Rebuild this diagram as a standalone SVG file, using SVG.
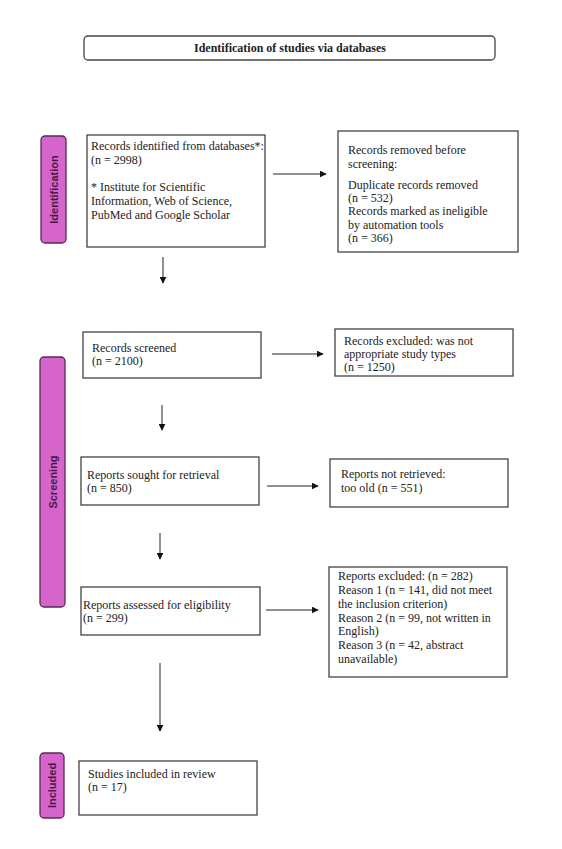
<svg xmlns="http://www.w3.org/2000/svg" width="562" height="849" viewBox="0 0 562 849">
<defs>
<marker id="ah" viewBox="0 0 10 10" refX="9" refY="5" markerWidth="7" markerHeight="7" markerUnits="userSpaceOnUse" orient="auto"><path d="M0,0 L10,5 L0,10 z" fill="#111"/></marker>
<style>
.box{fill:#fff;stroke:#444;stroke-width:1.3}
.t{font-family:"Liberation Serif","Times New Roman",serif;font-size:12px;fill:#222}
.tb{font-family:"Liberation Serif","Times New Roman",serif;font-size:12px;font-weight:bold;fill:#222}
.bar{fill:#d565cb;stroke:#5a2a55;stroke-width:1.3}
.bt{font-family:"Liberation Sans",Arial,sans-serif;font-size:11px;font-weight:bold;fill:#4a1845}
.c{stroke:#222;stroke-width:1;fill:none;marker-end:url(#ah)}
</style>
</defs>
<rect width="562" height="849" fill="#fff"/>
<g id="title"><rect class="box" x="84" y="36" width="411" height="24" rx="4"/><text class="tb" x="290" y="52" text-anchor="middle">Identification of studies via databases</text></g>
<g id="bar-identification"><rect class="bar" x="41" y="136" width="25" height="107" rx="4"/><text class="bt" transform="translate(57.5,189.5) rotate(-90)" text-anchor="middle">Identification</text></g>
<g id="bar-screening"><rect class="bar" x="40" y="357" width="25" height="250" rx="4"/><text class="bt" transform="translate(56.5,482) rotate(-90)" text-anchor="middle">Screening</text></g>
<g id="bar-included"><rect class="bar" x="40" y="753" width="24" height="65" rx="4"/><text class="bt" transform="translate(56,785.5) rotate(-90)" text-anchor="middle">Included</text></g>
<g id="identified"><rect class="box" x="87" y="135" width="178" height="112"/><text class="t"><tspan x="91" y="150">Records identified from databases*:</tspan><tspan x="91" y="164">(n = 2998)</tspan><tspan x="91" y="191">* Institute for Scientific</tspan><tspan x="91" y="205">Information, Web of Science,</tspan><tspan x="91" y="219">PubMed and Google Scholar</tspan></text></g>
<g id="removed"><rect class="box" x="338" y="131" width="180" height="121"/><text class="t"><tspan x="348" y="154">Records removed before</tspan><tspan x="348" y="168">screening:</tspan><tspan x="348" y="189">Duplicate records removed</tspan><tspan x="348" y="202">(n = 532)</tspan><tspan x="348" y="215">Records marked as ineligible</tspan><tspan x="348" y="229">by automation tools</tspan><tspan x="348" y="242">(n = 366)</tspan></text></g>
<g id="screened"><rect class="box" x="83" y="332" width="178" height="46"/><text class="t"><tspan x="92" y="352">Records screened</tspan><tspan x="92" y="365">(n = 2100)</tspan></text></g>
<g id="excluded1"><rect class="box" x="335" y="329" width="178" height="47"/><text class="t"><tspan x="344" y="345">Records excluded: was not</tspan><tspan x="344" y="358">appropriate study types</tspan><tspan x="344" y="371">(n = 1250)</tspan></text></g>
<g id="sought"><rect class="box" x="81" y="457" width="178" height="48"/><text class="t"><tspan x="87" y="479">Reports sought for retrieval</tspan><tspan x="87" y="492">(n = 850)</tspan></text></g>
<g id="notretrieved"><rect class="box" x="330" y="459" width="178" height="48"/><text class="t"><tspan x="341" y="478">Reports not retrieved:</tspan><tspan x="341" y="492">too old (n = 551)</tspan></text></g>
<g id="assessed"><rect class="box" x="81" y="587" width="179" height="48"/><text class="t"><tspan x="83" y="609">Reports assessed for eligibility</tspan><tspan x="83" y="622">(n = 299)</tspan></text></g>
<g id="excluded2"><rect class="box" x="329" y="567" width="178" height="110"/><text class="t"><tspan x="338" y="580">Reports excluded: (n = 282)</tspan><tspan x="338" y="594">Reason 1 (n = 141, did not meet</tspan><tspan x="338" y="608">the inclusion criterion)</tspan><tspan x="338" y="622">Reason 2 (n = 99, not written in</tspan><tspan x="338" y="635">English)</tspan><tspan x="338" y="649">Reason 3 (n = 42, abstract</tspan><tspan x="338" y="663">unavailable)</tspan></text></g>
<g id="included"><rect class="box" x="79" y="761" width="178" height="54"/><text class="t"><tspan x="88" y="778">Studies included in review</tspan><tspan x="88" y="791">(n = 17)</tspan></text></g>
<g id="connectors">
<line class="c" x1="273" y1="174" x2="326" y2="174"/>
<line class="c" x1="163" y1="257" x2="163" y2="283"/>
<line class="c" x1="272" y1="354" x2="323" y2="354"/>
<line class="c" x1="162" y1="405" x2="162" y2="430"/>
<line class="c" x1="267" y1="486" x2="318" y2="486"/>
<line class="c" x1="160" y1="533" x2="160" y2="559"/>
<line class="c" x1="266" y1="610" x2="318" y2="610"/>
<line class="c" x1="160" y1="663" x2="160" y2="731"/>
</g>
</svg>
